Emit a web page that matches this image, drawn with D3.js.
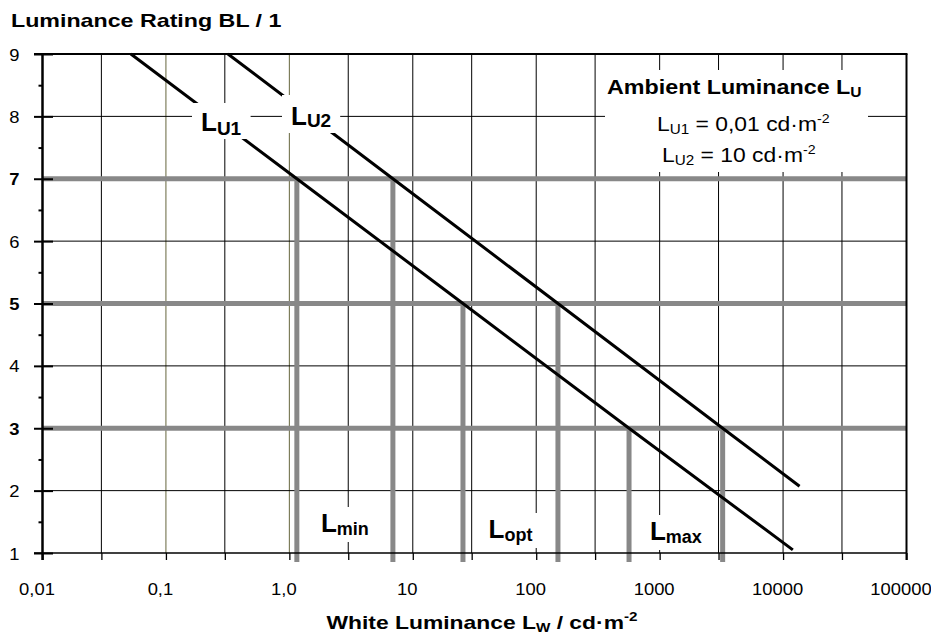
<!DOCTYPE html>
<html>
<head>
<meta charset="utf-8">
<script src="https://cdn.jsdelivr.net/npm/d3@7/dist/d3.min.js"></script>
<style>
  html, body { margin: 0; padding: 0; background: #fff; }
  svg { display: block; font-family: Arial, "Liberation Sans", sans-serif; }
</style>
</head>
<body>
<script>
// ---- data ----------------------------------------------------------
const xDecades      = [0.01, 0.1, 1, 10, 100, 1000, 10000, 100000];
const xDecadeLabels = ["0,01", "0,1", "1,0", "10", "100", "1000", "10000", "100000"];
const xThrees       = [0.03, 0.3, 3, 30, 300, 3000, 30000];
const yTicks        = [1, 2, 3, 4, 5, 6, 7, 8, 9];
const yMinorTicks   = [1.5, 2.5, 3.5, 4.5, 5.5, 6.5, 7.5, 8.5];
const yBoldTicks    = [3, 5, 7];

// luminance rating vs white luminance, ambient 0.01 cd/m² (LU1) and 10 cd/m² (LU2)
const lu1Lw = [0.052, 1.15, 25.5, 565, 12000];
const lu1BL = [9, 7, 5, 3, 1.05];
const lu2Lw = [0.318, 6.9, 150, 3240, 13600];
const lu2BL = [9, 7, 5, 3, 2.07];

// rating levels marking the luminance ranges
const rangeLevels = [7, 5, 3];
const rangeNames  = ["min", "opt", "max"];

// ---- layout --------------------------------------------------------
const W = 931, H = 642;
const pLeft = 42.5, pRight = 906.5, pTop = 54, pBottom = 553;
const olive = "#66663d";
const grey = "#888888";

const svg = d3.select("body").append("svg").attr("width", W).attr("height", H);
svg.append("rect").attr("width", W).attr("height", H).attr("fill", "#fff");

const x = d3.scaleLog().domain([0.01, 100000]).range([pLeft, pRight]);
const y = d3.scaleLinear().domain([1, 9]).range([pBottom, pTop]);

// text helper: horizontally stretched text with sub/superscript parts
function richText(parent, px, py, parts, o) {
  const opt = Object.assign({anchor: "start", sx: 1, weight: "normal", size: 16}, o || {});
  const g = parent.append("g").attr("transform", `translate(${px},${py}) scale(${opt.sx},1)`);
  const t = g.append("text")
    .attr("text-anchor", opt.anchor)
    .attr("font-weight", opt.weight)
    .attr("font-size", opt.size)
    .attr("fill", "#000");
  let shift = 0;
  parts.forEach(p => {
    const s = t.append("tspan").text(p.t);
    const target = p.shift || 0;
    if (target !== shift) s.attr("dy", target - shift);
    shift = target;
    if (p.size) s.attr("font-size", p.size);
    if (p.weight) s.attr("font-weight", p.weight);
  });
  return {g, t};
}
function backBox(lbl, pad) {
  const b = lbl.t.node().getBBox();
  lbl.g.insert("rect", "text")
    .attr("x", b.x - pad[3]).attr("y", b.y - pad[0])
    .attr("width", b.width + pad[1] + pad[3])
    .attr("height", b.height + pad[0] + pad[2])
    .attr("fill", "#fff");
}

// ---- grid ----------------------------------------------------------
const grid = svg.append("g");
const vGrid = xDecades.slice(1, -1).concat(xThrees);
grid.selectAll("line.v").data(vGrid).join("line")
  .attr("x1", d => x(d)).attr("x2", d => x(d))
  .attr("y1", pTop).attr("y2", pBottom)
  .attr("stroke", d => (d === 0.1 || d === 1) ? olive : "#000")
  .attr("stroke-width", 1);
grid.selectAll("line.h").data(yTicks.filter(d => d > 1 && d < 9 && !yBoldTicks.includes(d))).join("line")
  .attr("x1", pLeft).attr("x2", pRight)
  .attr("y1", d => y(d)).attr("y2", d => y(d))
  .attr("stroke", "#000").attr("stroke-width", 1);

// thick grey rating levels
grid.selectAll("line.lvl").data(rangeLevels).join("line")
  .attr("x1", pLeft).attr("x2", pRight)
  .attr("y1", d => y(d)).attr("y2", d => y(d))
  .attr("stroke", grey).attr("stroke-width", 5);

// drop lines from each curve at each rating level
const lu1 = d3.zip(lu1Lw, lu1BL).map(([lw, bl]) => ({lw, bl}));
const lu2 = d3.zip(lu2Lw, lu2BL).map(([lw, bl]) => ({lw, bl}));
const drops = [];
rangeLevels.forEach(lvl => {
  const a = lu1.find(d => d.bl === lvl), b = lu2.find(d => d.bl === lvl);
  drops.push({lw: a.lw, bl: lvl}, {lw: b.lw, bl: lvl});
});
grid.selectAll("line.drop").data(drops).join("line")
  .attr("x1", d => x(d.lw)).attr("x2", d => x(d.lw))
  .attr("y1", d => y(d.bl)).attr("y2", pBottom + 9)
  .attr("stroke", grey).attr("stroke-width", 5);

// ---- curves --------------------------------------------------------
const line = d3.line().x(d => x(d.lw)).y(d => y(d.bl));
svg.selectAll("path.curve").data([lu1, lu2]).join("path")
  .attr("d", line).attr("fill", "none")
  .attr("stroke", "#000").attr("stroke-width", 3);

// ---- frame & axes --------------------------------------------------
const frame = svg.append("g");
frame.append("line").attr("x1", 34).attr("x2", pRight + 1).attr("y1", pTop).attr("y2", pTop)
  .attr("stroke", "#000").attr("stroke-width", 2);
frame.append("line").attr("x1", pRight).attr("x2", pRight).attr("y1", pTop).attr("y2", pBottom + 7)
  .attr("stroke", "#000").attr("stroke-width", 2);

const xAxis = svg.append("g").attr("transform", `translate(0,${pBottom})`)
  .call(d3.axisBottom(x).tickValues(xDecades.concat(xThrees)).tickSize(7).tickSizeOuter(0)
    .tickFormat(d => { const i = xDecades.indexOf(d); return i < 0 ? "" : xDecadeLabels[i]; }));
xAxis.select(".domain").attr("stroke", "#000").attr("stroke-width", 1.5).attr("d", `M34,0H${pRight}`);
xAxis.selectAll(".tick line").attr("stroke", "#000").attr("stroke-width", 1.3);
xAxis.selectAll(".tick text")
  .attr("font-family", "Arial, 'Liberation Sans', sans-serif")
  .attr("font-size", 16).attr("fill", "#000")
  .attr("y", 0).attr("dy", 0)
  .attr("transform", "translate(-6,42) scale(1.15,1)");

const yAxis = svg.append("g").attr("transform", `translate(${pLeft},0)`)
  .call(d3.axisLeft(y).tickValues(yTicks).tickSizeOuter(0).tickFormat(d3.format("d")));
yAxis.select(".domain").attr("stroke", "#000").attr("stroke-width", 2.5)
  .attr("d", `M0,${pTop}V${pBottom + 7}`);
yAxis.selectAll(".tick line").attr("x1", -8.5).attr("x2", 10.5)
  .attr("stroke", "#000").attr("stroke-width", 2);
yAxis.selectAll(".tick text")
  .attr("font-family", "Arial, 'Liberation Sans', sans-serif")
  .attr("font-size", 16).attr("fill", "#000")
  .attr("font-weight", d => yBoldTicks.includes(d) ? "bold" : "normal")
  .attr("x", 0).attr("dy", 0)
  .attr("transform", "translate(-23,6) scale(1.15,1)");

const yMinor = svg.append("g").attr("transform", `translate(${pLeft},0)`)
  .call(d3.axisLeft(y).tickValues(yMinorTicks).tickSize(4).tickFormat(""));
yMinor.select(".domain").remove();
yMinor.selectAll(".tick line").attr("stroke", "#000").attr("stroke-width", 2);

// ---- labels --------------------------------------------------------
const labels = svg.append("g");

// curve labels
const l1 = richText(labels, 201, 131, [{t: "L"}, {t: "U1", size: 19, shift: 4}],
  {weight: "bold", size: 26});
backBox(l1, [4, 9, 0, 9]);
const l2 = richText(labels, 291, 125, [{t: "L"}, {t: "U2", size: 19, shift: 2}],
  {weight: "bold", size: 26});
backBox(l2, [6, 9, 2, 9]);

// range labels between the drop lines
const rangeBase = [532, 538, 540];
rangeLevels.forEach((lvl, i) => {
  const a = lu1.find(d => d.bl === lvl), b = lu2.find(d => d.bl === lvl);
  const cx = (x(a.lw) + x(b.lw)) / 2;
  const r = richText(labels, cx, rangeBase[i], [{t: "L"}, {t: rangeNames[i], size: 18, shift: 3}],
    {weight: "bold", size: 26, anchor: "middle"});
  backBox(r, [1, 6, 3, 6]);
});

// ambient luminance key
labels.append("rect").attr("x", 605).attr("y", 70).attr("width", 263).attr("height", 102).attr("fill", "#fff");
richText(labels, 607, 94, [{t: "Ambient Luminance L"}, {t: "U", size: 14, shift: 3}],
  {weight: "bold", size: 21, sx: 1.11});
richText(labels, 657, 131, [{t: "L"}, {t: "U1", size: 14, shift: 3}, {t: " = 0,01 cd·m"}, {t: "-2", size: 13, shift: -8}],
  {size: 21, sx: 1.09});
richText(labels, 662, 162, [{t: "L"}, {t: "U2", size: 14, shift: 3}, {t: " = 10 cd·m"}, {t: "-2", size: 13, shift: -8}],
  {size: 21, sx: 1.09});

// axis titles
richText(labels, 11, 27, [{t: "Luminance Rating BL / 1"}], {weight: "bold", size: 18, sx: 1.29});
richText(labels, 482, 629, [{t: "White Luminance L"}, {t: "W", size: 12, shift: 3}, {t: " / cd·m"}, {t: "-2", size: 12, shift: -8}],
  {weight: "bold", size: 18, sx: 1.27, anchor: "middle"});
</script>
</body>
</html>
